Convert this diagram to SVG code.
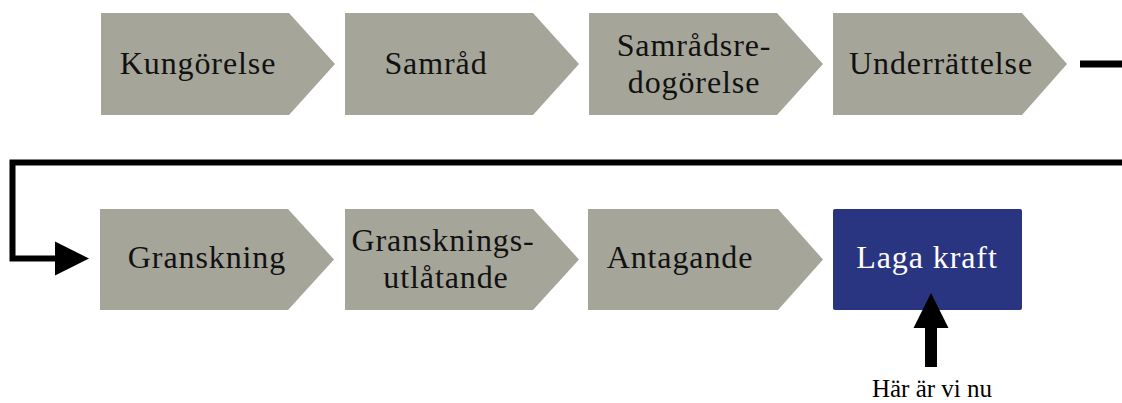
<svg xmlns="http://www.w3.org/2000/svg" width="1122" height="403" viewBox="0 0 1122 403">
<style>
.step{fill:#a5a59a;}
.lbl{font-family:"Liberation Serif","DejaVu Serif",serif;font-size:32px;fill:#111;text-anchor:middle;letter-spacing:0.9px;}
.wlbl{font-family:"Liberation Serif","DejaVu Serif",serif;font-size:32px;fill:#fff;text-anchor:middle;letter-spacing:0.9px;}
.note{font-family:"Liberation Serif",serif;font-size:25px;fill:#000;text-anchor:middle;}
.conn{fill:none;stroke:#000;stroke-width:6;}
</style>
<rect width="1122" height="403" fill="#fff"/>
<g id="kungorelse">
<path class="step" d="M101,13 H289 L335,64 L289,115 H101 Z"/>
<text class="lbl" x="198" y="74">Kungörelse</text>
</g>
<g id="samrad">
<path class="step" d="M345,13 H533 L579,64 L533,115 H345 Z"/>
<text class="lbl" x="436" y="74">Samråd</text>
</g>
<g id="samradsredogorelse">
<path class="step" d="M589,13 H777 L823,64 L777,115 H589 Z"/>
<text class="lbl" x="694" y="56">Samrådsre-</text>
<text class="lbl" x="694" y="93">dogörelse</text>
</g>
<g id="underrattelse">
<path class="step" d="M833,13 H1022 L1067,64 L1022,115 H833 Z"/>
<text class="lbl" x="941" y="74">Underrättelse</text>
</g>
<g id="granskning">
<path class="step" d="M100,209 H288 L334,259.5 L288,310 H100 Z"/>
<text class="lbl" x="207" y="268">Granskning</text>
</g>
<g id="granskningsutlatande">
<path class="step" d="M345,209 H533 L579,259.5 L533,310 H345 Z"/>
<text class="lbl" x="443" y="251">Gransknings-</text>
<text class="lbl" x="446" y="288">utlåtande</text>
</g>
<g id="antagande">
<path class="step" d="M588,209 H778 L823,259.5 L778,310 H588 Z"/>
<text class="lbl" x="680" y="268">Antagande</text>
</g>
<g id="laga-kraft">
<rect x="833" y="209" width="189" height="101" rx="2" fill="#2a3582"/>
<text class="wlbl" x="927" y="268">Laga kraft</text>
</g>
<g id="connectors">
<line x1="1080" y1="64" x2="1122" y2="64" stroke="#000" stroke-width="7"/>
<path class="conn" d="M1122,162.5 H12.5 V258.5 H58"/>
<polygon points="55,241.5 89,258.5 55,275.5" fill="#000"/>
<rect x="925" y="326" width="12" height="41" fill="#000"/>
<polygon points="931,293 948.5,328 913.5,328" fill="#000"/>
</g>
<g id="note">
<text class="note" x="932" y="397">Här är vi nu</text>
</g>
</svg>
